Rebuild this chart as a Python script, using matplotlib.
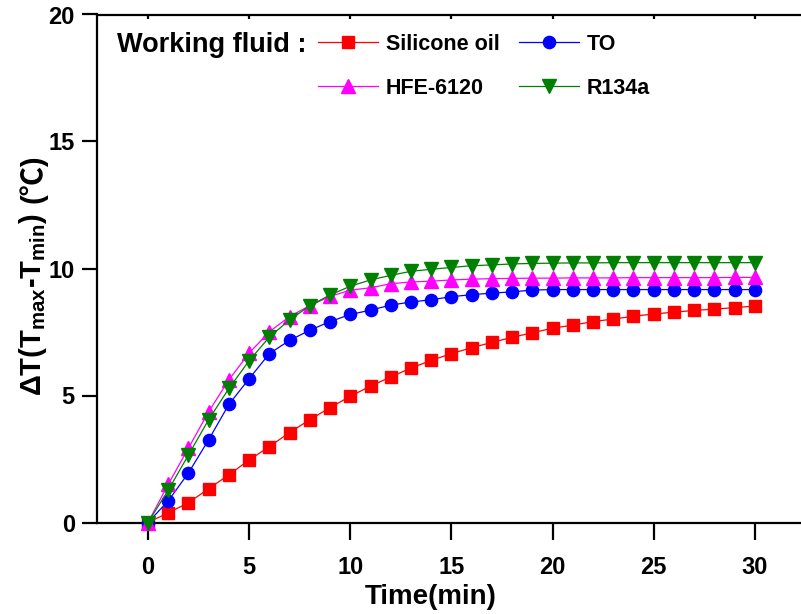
import matplotlib
matplotlib.use("Agg")
import matplotlib.pyplot as plt

plt.rcParams['font.family'] = ['Liberation Sans', 'Noto Sans CJK SC', 'DejaVu Sans']
plt.rcParams['font.weight'] = 'bold'
plt.rcParams['mathtext.fontset'] = 'custom'
plt.rcParams['mathtext.rm'] = 'Liberation Sans'
plt.rcParams['mathtext.it'] = 'Liberation Sans'
plt.rcParams['mathtext.bf'] = 'Liberation Sans:bold'

time_min = list(range(0, 31))
silicone_oil = [0, 0.38, 0.78, 1.33, 1.88, 2.46, 2.99, 3.54, 4.05, 4.52, 4.97,
                5.37, 5.73, 6.08, 6.38, 6.65, 6.88, 7.09, 7.29, 7.47, 7.65,
                7.77, 7.91, 8.01, 8.12, 8.21, 8.28, 8.35, 8.40, 8.46, 8.52]
to_oil = [0, 0.85, 1.95, 3.26, 4.65, 5.66, 6.65, 7.17, 7.57, 7.91, 8.19,
          8.36, 8.56, 8.68, 8.77, 8.89, 8.97, 9.03, 9.08, 9.15, 9.17,
          9.17, 9.17, 9.17, 9.17, 9.17, 9.17, 9.17, 9.17, 9.17, 9.17]
hfe_6120 = [0, 1.50, 2.93, 4.36, 5.62, 6.67, 7.51, 8.11, 8.54, 8.90, 9.15,
            9.24, 9.40, 9.47, 9.50, 9.55, 9.58, 9.60, 9.61, 9.62, 9.62,
            9.63, 9.63, 9.63, 9.64, 9.64, 9.64, 9.64, 9.64, 9.65, 9.65]
r134a = [0, 1.27, 2.66, 4.05, 5.28, 6.37, 7.30, 7.98, 8.53, 8.96, 9.30,
         9.55, 9.73, 9.89, 9.97, 10.04, 10.11, 10.14, 10.18, 10.20, 10.21,
         10.22, 10.22, 10.23, 10.23, 10.23, 10.23, 10.23, 10.23, 10.23, 10.23]

series_names = ['Silicone oil', 'TO', 'HFE-6120', 'R134a']
x_ticks = [0, 5, 10, 15, 20, 25, 30]
y_ticks = [0, 5, 10, 15, 20]

W, H = 801, 614
fig = plt.figure(figsize=(W / 100, H / 100), dpi=100)
ax = fig.add_axes([97 / W, 1 - 522.5 / H, 704 / W, (522.5 - 14.5) / H])

styles = [
    dict(color='#FF0000', marker='s', ms=8.3),
    dict(color='#0000FF', marker='o', ms=8.8),
    dict(color='#FF00FF', marker='^', ms=9.5),
    dict(color='#008000', marker='v', ms=9.5),
]
data = [silicone_oil, to_oil, hfe_6120, r134a]
handles = []
for name, ys, st in zip(series_names, data, styles):
    h, = ax.plot(time_min, ys, color=st['color'], lw=0.9, marker=st['marker'],
                 ms=st['ms'], mec=st['color'], mfc=st['color'], label=name,
                 clip_on=False, zorder=3)
    handles.append(h)

ax.set_xlim(-2.52, 32.28)
ax.set_ylim(0, 20)
ax.set_xticks(x_ticks)
ax.set_yticks(y_ticks)
ax.tick_params(axis='x', direction='out', length=12, width=1.6, labelsize=17, pad=12)
ax.tick_params(axis='y', direction='out', length=11, width=1.6, labelsize=17, pad=5)
for lab in ax.get_xticklabels() + ax.get_yticklabels():
    lab.set_fontweight('bold')
ax.spines['right'].set_visible(False)
for s in ['left', 'bottom', 'top']:
    ax.spines[s].set_linewidth(1.6)
# small inward ticks on the top spine
ax.xaxis.set_tick_params(which='major', top=True)
for t in ax.xaxis.get_major_ticks():
    t.tick2line.set_marker(3)
    t.tick2line.set_markersize(3)

ax.set_xlabel('Time(min)', fontsize=20, fontweight='bold', va='center')
ax.xaxis.set_label_coords((431 - 97) / 704, -(597 - 522.5) / 508)

# y label in two pieces: main part (with subscripts) + unit with ℃
ylab_main = fig.text(33 / W, 1 - 304 / H, 'ΔT(T$_{\\mathregular{max}}$-T$_{\\mathregular{min}}$)',
                     fontsize=21, fontweight='bold', rotation=90, ha='center', va='center')
fig.canvas.draw()
bb = ylab_main.get_window_extent()
top_px = bb.y1
fig.text(33 / W, (top_px + 9) / H, '(℃)', fontsize=21, fontweight='bold',
         family=['Liberation Sans', 'Noto Sans CJK SC'], rotation=90,
         ha='center', va='bottom')

fig.text(117 / W, 1 - 45 / H, 'Working fluid :', fontsize=19.5, fontweight='bold',
         ha='left', va='center')
order = [handles[0], handles[2], handles[1], handles[3]]
leg = ax.legend(order, [h.get_label() for h in order], ncol=2, frameon=False,
                loc='upper left', bbox_to_anchor=(318 / W, 1 - 34 / H),
                bbox_transform=fig.transFigure, borderpad=0, borderaxespad=0,
                handlelength=2.8, handletextpad=0.35, columnspacing=0.9,
                labelspacing=1.05, prop={'size': 15.5, 'weight': 'bold'})

fig.savefig('out.png', dpi=100)
